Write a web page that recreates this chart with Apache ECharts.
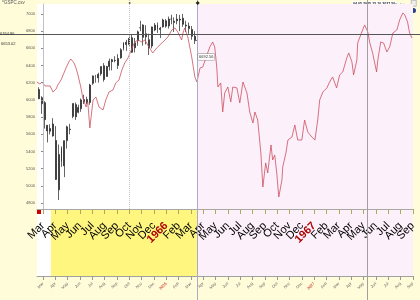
<!DOCTYPE html>
<html><head><meta charset="utf-8">
<script src="https://cdn.jsdelivr.net/npm/echarts@6/dist/echarts.min.js"></script>
<style>html,body{margin:0;padding:0;background:#FFFCD9;}#c{width:420px;height:300px;}</style>
</head><body><div id="c"></div>
<script>
// ---- tick labels ----
const bigMonthLabels = ['Mar','Apr','May','Jun','Jul','Aug','Sep','Oct','Nov','Dec','1966','Feb','Mar',
  'Apr','May','Jun','Jul','Aug','Sep','Oct','Nov','Dec','1967','Feb','Mar','Apr','May','Jun','Jul','Aug','Sep'];
const smallMonthLabels = ['Mar','Apr','May','Jun','Jul','Aug','Sep','Oct','Nov','Dec','2026','Feb','Mar',
  'Apr','May','Jun','Jul','Aug','Sep','Oct','Nov','Dec','2027','Feb','Mar','Apr','May','Jun','Jul','Aug','Sep'];
const yTickValues = [4800,5000,5200,5400,5600,5800,6000,6200,6400,6600,6800,7000];

// ---- black OHLC (weekly, mid-week date) ----
const blackWeeks = ['2025-02-19','2025-02-26','2025-03-05','2025-03-12','2025-03-19','2025-03-26','2025-04-02','2025-04-09','2025-04-16','2025-04-23',
  '2025-04-30','2025-05-07','2025-05-14','2025-05-21','2025-05-28','2025-06-04','2025-06-11','2025-06-18','2025-06-25','2025-07-02',
  '2025-07-09','2025-07-16','2025-07-23','2025-07-30','2025-08-06','2025-08-13','2025-08-20','2025-08-27','2025-09-03','2025-09-10',
  '2025-09-17','2025-09-24','2025-10-01','2025-10-08','2025-10-15','2025-10-22','2025-10-29','2025-11-05','2025-11-12','2025-11-19',
  '2025-11-26','2025-12-03','2025-12-10','2025-12-17','2025-12-24','2025-12-31','2026-01-07','2026-01-14','2026-01-21','2026-01-28',
  '2026-02-04','2026-02-11','2026-02-18','2026-02-25','2026-03-04','2026-03-11','2026-03-17'];
const blackOpen = [6121,6026,5968,5705,5635,5719,5527,4953,5441,5232,
  5526,5655,5808,5945,5855,5897,6005,6005,5970,6193,
  6259,6256,6304,6397,6272,6389,6445,6457,6401,6489,
  6597,6670,6643,6723,6606,6688,6839,6872,6770,6700,
  6627,6813,6870,6820,6850,6920,6860,6940,6900,6920,
  6940,6950,6870,6860,6820,6740,6690];
const blackHigh = [6147,6043,5986,5706,5716,5787,5695,5481,5459,5528,
  5700,5720,5958,5969,5944,6017,6059,6037,6187,6284,
  6290,6316,6389,6428,6395,6481,6478,6508,6532,6601,
  6672,6699,6750,6765,6720,6807,6920,6880,6870,6771,
  6853,6895,6901,6850,6945,6940,6970,6990,6960,7000,
  6990,7000,6920,6900,6860,6800,6720];
const blackLow = [6009,5837,5666,5505,5598,5572,5069,4835,5221,5101,
  5433,5599,5786,5767,5843,5861,5952,5950,5943,6174,
  6201,6201,6281,6212,6272,6342,6343,6437,6360,6479,
  6576,6570,6630,6550,6552,6630,6800,6631,6646,6522,
  6600,6800,6780,6720,6840,6840,6830,6880,6790,6880,
  6800,6850,6790,6770,6700,6650,6600];
const blackClose = [6013,5955,5770,5639,5667,5581,5074,5363,5282,5525,
  5686,5660,5958,5803,5912,6000,5977,5967,6173,6279,
  6260,6297,6389,6238,6389,6450,6467,6460,6482,6584,
  6664,6644,6716,6553,6664,6792,6840,6728,6734,6603,
  6849,6870,6827,6834,6930,6858,6940,6940,6915,6940,
  6930,6880,6860,6830,6740,6690,6692.56];

// ---- red analog line ----
const redDates = [
  '2025-02-15','2025-02-22','2025-02-27','2025-03-06','2025-03-11','2025-03-19','2025-03-26','2025-04-03','2025-04-07','2025-04-15',
  '2025-04-20','2025-04-27','2025-05-04','2025-05-09','2025-05-17','2025-05-22','2025-05-27','2025-06-03','2025-06-08','2025-06-16',
  '2025-06-20','2025-06-25','2025-07-03','2025-07-10','2025-07-18','2025-07-28','2025-08-04','2025-08-12','2025-08-22','2025-08-29',
  '2025-09-06','2025-09-13','2025-09-20','2025-09-28','2025-10-08','2025-10-15','2025-10-23','2025-11-02','2025-11-09','2025-11-16',
  '2025-11-28','2025-12-08','2025-12-21','2025-12-29','2026-01-05','2026-01-15','2026-01-23','2026-01-30','2026-02-08','2026-02-11',
  '2026-02-15','2026-02-22','2026-03-03','2026-03-11','2026-03-16','2026-03-24','2026-03-31','2026-04-10','2026-04-17','2026-04-24',
  '2026-04-29','2026-05-04','2026-05-07','2026-05-14','2026-05-19','2026-05-24','2026-06-01','2026-06-08','2026-06-13','2026-06-23',
  '2026-06-30','2026-07-08','2026-07-18','2026-07-25','2026-08-02','2026-08-07','2026-08-14','2026-08-22','2026-08-27','2026-09-03',
  '2026-09-08','2026-09-16','2026-09-20','2026-09-25','2026-09-30','2026-10-05','2026-10-13','2026-10-15','2026-10-23','2026-10-28',
  '2026-11-07','2026-11-14','2026-11-21','2026-12-01','2026-12-08','2026-12-16','2026-12-26','2027-01-03','2027-01-10','2027-01-15',
  '2027-01-23','2027-02-02','2027-02-08','2027-02-15','2027-02-24','2027-03-03','2027-03-11','2027-03-21','2027-03-26','2027-04-03',
  '2027-04-07','2027-04-15','2027-04-17','2027-04-27','2027-05-04','2027-05-12','2027-05-17','2027-05-24','2027-06-03','2027-06-06',
  '2027-06-13','2027-06-20','2027-06-28','2027-07-05','2027-07-13','2027-07-23','2027-07-30','2027-08-07','2027-08-12','2027-08-19',
  '2027-08-24','2027-08-30'];
const redValues = [
  6208,6185,6208,6162,6139,6162,6092,6127,6174,6232,
  6290,6371,6441,6476,6430,6371,6290,6150,6022,5917,
  5976,5673,5999,6034,5917,5883,5999,6092,6115,6197,
  6232,6348,6430,6488,6604,6674,6697,6674,6697,6639,
  6546,6604,6662,6697,6732,6814,6837,6790,6697,6779,
  6837,6732,6500,6267,6208,6371,6383,6523,6616,6674,
  6616,6383,6150,6197,5859,6080,6150,5976,6150,6139,
  5964,6208,6080,5859,5731,5859,5766,5382,4986,5266,
  5149,5475,5301,5359,5149,4870,5068,5219,5382,5533,
  5568,5708,5533,5533,5766,5626,5568,5533,5766,5999,
  6092,6139,6208,6267,6139,6290,6325,6488,6546,6441,
  6290,6465,6662,6790,6872,6790,6662,6546,6325,6465,
  6674,6662,6558,6616,6779,6814,6930,7012,6988,6907,
  6779,6721];

// ---- annotations ----
const lastPrice = 6764.86;
const refPrice = 6653.02;
const boxPrice = 6692.56;
const vlineDates = ['2025-10-02','2026-03-18','2027-05-11'];
const bandStartDate = '2025-03-21';
const projStartDate = '2026-03-18';

// months since 2025-03-01 (each month one unit)
const toM = s => { const p = s.split('-').map(Number); const dim = new Date(p[0], p[1], 0).getDate();
  return (p[0]-2025)*12 + (p[1]-3) + (p[2]-1)/dim; };
const X_MIN = -0.4865, X_MAX = 30.02, Y_MIN = 4730, Y_MAX = 7116;
// month ticks plus an empty placeholder at each end (absorbs ECharts' min/max label pruning)
const tickPos = [X_MIN].concat(bigMonthLabels.map((_, i) => i), [X_MAX]);
const isYear = t => /^\d{4}$/.test(t);
const labelFor = (arr, v) => { const i = Math.round(v); if (Math.abs(v - i) > 0.01) return ''; const t = arr[i];
  return t == null ? '' : (isYear(t) ? '{y|' + t + '}' : t); };

const chart = echarts.init(document.getElementById('c'), null, {renderer: 'canvas'});
const option = {
  animation: false,
  backgroundColor: '#FFFCD9',
  grid: [
    {left: 37, right: 7, top: 4, bottom: 91, show: true, backgroundColor: '#ffffff', borderWidth: 0},
    {left: 37, right: 7, top: 209, bottom: 24, show: true, backgroundColor: '#ffffff', borderWidth: 0}
  ],
  xAxis: [
    {gridIndex: 0, type: 'value', min: X_MIN, max: X_MAX, position: 'bottom', z: 4,
     axisLine: {show: true, onZero: false, lineStyle: {color: '#a8a8a8', width: 1}},
     axisTick: {show: true, customValues: tickPos, length: 5, lineStyle: {color: '#b0a860'}},
     axisLabel: {customValues: tickPos, rotate: 45, margin: 15, fontSize: 11, fontFamily: 'Arial', color: '#000',
       showMinLabel: false, showMaxLabel: false, hideOverlap: false,
       formatter: v => labelFor(bigMonthLabels, v),
       rich: {y: {color: '#b00000', fontWeight: 'bold', fontSize: 11, fontFamily: 'Arial'}}},
     splitLine: {show: false}},
    {gridIndex: 1, type: 'value', min: X_MIN, max: X_MAX, position: 'bottom', z: 4,
     axisLine: {show: true, onZero: false, lineStyle: {color: '#a0a0a0', width: 1}},
     axisTick: {show: true, customValues: tickPos, length: 4, lineStyle: {color: '#999'}},
     axisLabel: {customValues: tickPos, rotate: 45, margin: 7, fontSize: 4, fontFamily: 'Arial', color: '#666',
       showMinLabel: false, showMaxLabel: false, hideOverlap: false,
       formatter: v => labelFor(smallMonthLabels, v),
       rich: {y: {color: '#c00000', fontSize: 4, fontFamily: 'Arial'}}},
     splitLine: {show: false}}
  ],
  yAxis: [
    {gridIndex: 0, type: 'value', min: Y_MIN, max: Y_MAX, z: 4,
     axisLine: {show: true, lineStyle: {color: '#c0c0c0'}},
     axisTick: {show: true, customValues: yTickValues, length: 2, lineStyle: {color: '#888'}},
     axisLabel: {customValues: yTickValues, fontSize: 4, fontFamily: 'Arial', color: '#555', margin: 2,
       formatter: v => String(v)},
     splitLine: {show: false}},
    {gridIndex: 1, type: 'value', min: 0, max: 1, show: false}
  ],
  graphic: [
    {type: 'text', left: 2, top: 0, style: {text: '^GSPC.csv', font: '4.5px Arial', fill: '#555'}},
    {type: 'text', left: 352, top: 1, style: {text: '04.05.2025-15.10.2027 50', font: 'bold 3.6px Arial', fill: '#222', backgroundColor: '#fff', padding: [1, 1]}},
    {type: 'text', left: 395, top: 3, style: {text: 'Solution', font: '3.8px Arial', fill: '#3050c0'}},
    {type: 'rect', left: 411, top: 0, shape: {width: 5, height: 6}, style: {fill: '#eee', stroke: '#888', lineWidth: 0.5}},
    {type: 'circle', left: 411, top: 8, shape: {r: 2.5}, style: {fill: '#2a3f8f'}},
    {type: 'rect', left: 37, top: 210, shape: {width: 4, height: 4}, style: {fill: '#d00000'}, z: 10}
  ],
  series: [
    {type: 'candlestick', xAxisIndex: 0, yAxisIndex: 0, barWidth: 1.4,
     encode: {x: 0, y: [1, 2, 3, 4]},
     data: blackWeeks.map((d, i) => [toM(d), blackOpen[i], blackClose[i], blackLow[i], blackHigh[i]]),
     itemStyle: {color: '#222', color0: '#222', borderColor: '#222', borderColor0: '#222', borderWidth: 0.7}},
    {type: 'line', xAxisIndex: 0, yAxisIndex: 0, symbol: 'none', z: 3,
     data: redDates.map((d, i) => [toM(d), redValues[i]]),
     lineStyle: {color: '#cc5060', width: 0.8},
     markArea: {silent: true, itemStyle: {color: '#FCF0FA', opacity: 1},
       data: [[{xAxis: toM(projStartDate)}, {xAxis: X_MAX}]]}},
    {type: 'line', xAxisIndex: 0, yAxisIndex: 0, symbol: 'none', clip: false, z: 6,
     data: [[0, 6000]], lineStyle: {opacity: 0},
     markLine: {silent: true, symbol: ['none', 'none'], label: {show: false},
       data: [
         [{coord: [toM(vlineDates[0]), Y_MAX], y: '0%', lineStyle: {color: '#c4c4c4', type: 'dotted', width: 1}}, {coord: [toM(vlineDates[0]), Y_MIN]}],
         [{coord: [toM(vlineDates[1]), Y_MAX], y: '0%', lineStyle: {color: '#a8acc8', type: 'solid', width: 1}}, {coord: [toM(vlineDates[1]), Y_MIN], y: '100%'}],
         [{coord: [toM(vlineDates[2]), Y_MAX], y: '0%', lineStyle: {color: '#a0a0a0', type: 'solid', width: 1}}, {coord: [toM(vlineDates[2]), Y_MIN], y: '100%'}],
         [{coord: [0, lastPrice], x: '0%', lineStyle: {color: '#555', type: 'solid', width: 1}}, {coord: [0, lastPrice], x: '100%'}]
       ]},
     markPoint: {silent: true,
       data: [
         {coord: [X_MIN, lastPrice], x: 0, symbol: 'rect', symbolSize: 0,
          label: {show: true, position: 'right', distance: 0, formatter: String(lastPrice), fontSize: 4, fontFamily: 'Arial', color: '#333'}},
         {coord: [X_MIN, refPrice], x: 1, symbol: 'rect', symbolSize: 0,
          label: {show: true, position: 'right', distance: 0, formatter: String(refPrice), fontSize: 4, fontFamily: 'Arial', color: '#333'}},
         {coord: [toM('2026-03-19'), 6500], symbol: 'rect', symbolSize: 0,
          label: {show: true, position: 'right', distance: 0, formatter: String(boxPrice), fontSize: 4, fontFamily: 'Arial', color: '#333',
                  backgroundColor: '#fff', borderColor: '#888', borderWidth: 0.5, padding: [1, 1]}},
         {coord: [toM(vlineDates[0]), Y_MAX], y: 3, symbol: 'circle', symbolSize: 2, itemStyle: {color: '#666'}, label: {show: false}},
         {coord: [toM(vlineDates[1]), Y_MAX], y: 3, symbol: 'diamond', symbolSize: 4, itemStyle: {color: '#222'}, label: {show: false}}
       ]}},
    {type: 'line', xAxisIndex: 1, yAxisIndex: 1, symbol: 'none', data: [[0, -1]], lineStyle: {opacity: 0},
     markArea: {silent: true, itemStyle: {opacity: 1},
       data: [
         [{xAxis: toM(bandStartDate), itemStyle: {color: '#FFF680', opacity: 1}}, {xAxis: toM(projStartDate)}],
         [{xAxis: toM(projStartDate), itemStyle: {color: '#FCF0FA', opacity: 1}}, {xAxis: X_MAX}]
       ]}}
  ]
};
chart.setOption(option);
</script>
</body></html>
